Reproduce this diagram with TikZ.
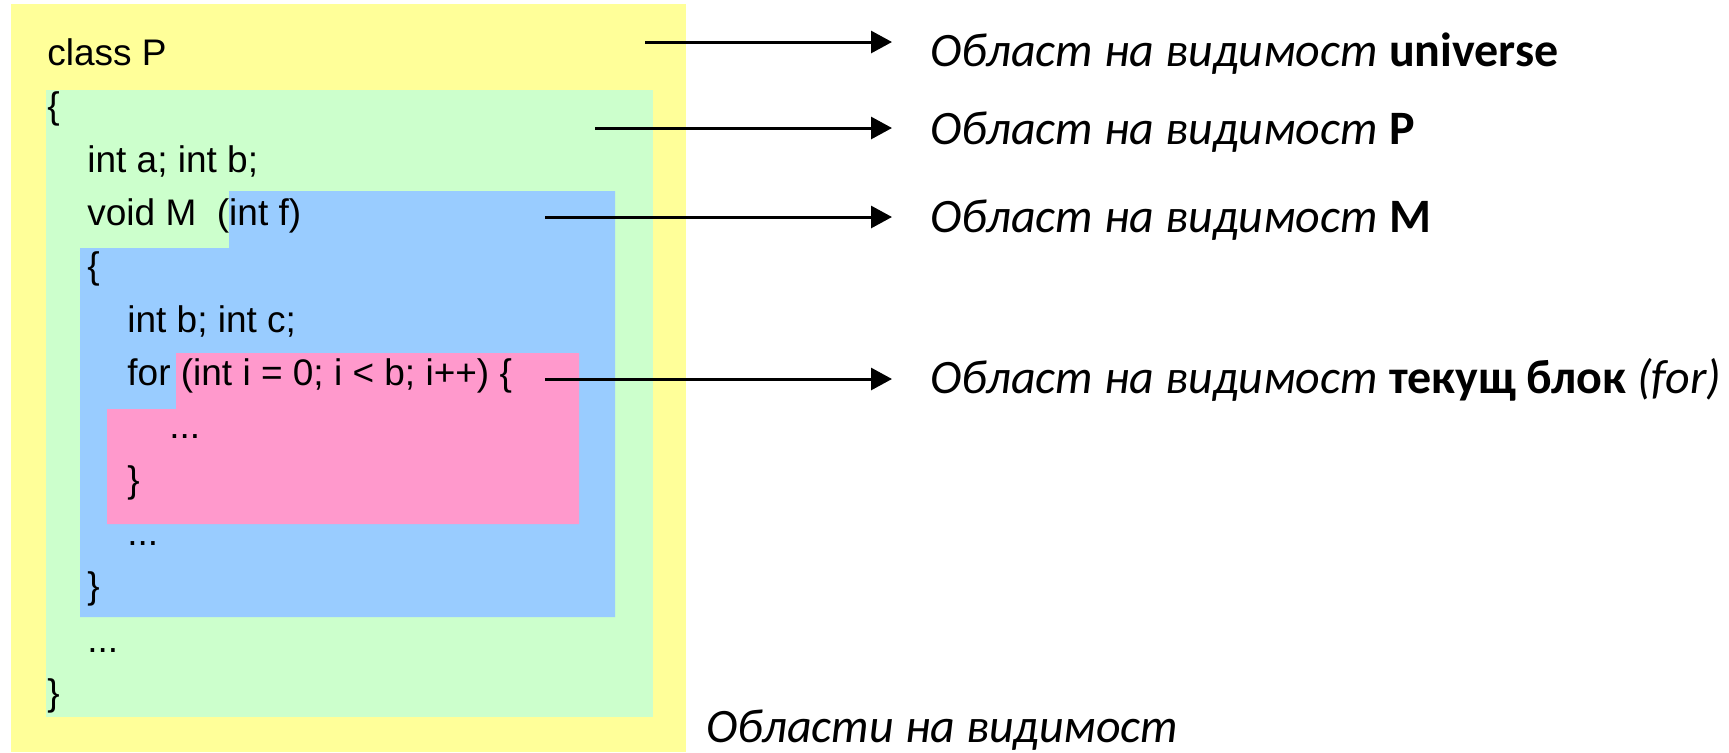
\documentclass[tikz,border=0pt]{standalone}
\usepackage{fontspec}
\setmainfont{Liberation Sans}
\newfontfamily\notefont[Language=Bulgarian]{Carlito}
\usetikzlibrary{arrows.meta}

\definecolor{scopeU}{HTML}{FFFF99}
\definecolor{scopeP}{HTML}{CCFFCC}
\definecolor{scopeM}{HTML}{99CCFF}
\definecolor{scopeF}{HTML}{FF99CC}

\begin{document}
\begin{tikzpicture}[x=0.5pt, y=-0.5pt,
    code/.style={anchor=base west, inner sep=0pt, font=\fontsize{18.5}{20}\selectfont},
    note/.style={anchor=base west, inner sep=0pt, font=\notefont\fontsize{24}{27}\selectfont},
    arr/.style={line width=1.5pt, -{Triangle[length=10.5pt,width=11pt]}, shorten >=19pt}]

            \useasboundingbox (0,0) rectangle (1729,752);

            % Scopes (universe, P, M, for)
            \fill[scopeU] (11,4) rectangle (686,752);
            \fill[scopeP] (46,90) rectangle (653,717);
            \fill[scopeM] (229,191) -- (615,191) -- (615,617) -- (80,617) -- (80,248) -- (229,248) -- cycle;
            \fill[scopeF] (176,353) -- (579,353) -- (579,524) -- (107,524) -- (107,409) -- (176,409) -- cycle;

            % Code lines
            \node[code] (c0) at (47,65) {class P};
            \node[code] (c1) at (47,118) {\{};
            \node[code] (c2) at (87,172) {int a; int b;};
            \node[code] (c3) at (87,225) {void M\ \ (int f)};
            \node[code] (c4) at (87,278) {\{};
            \node[code] (c5) at (127,332) {int b; int c;};
            \node[code] (c6) at (127,385) {for (int i = 0; i < b; i++) \{};
            \node[code] (c7) at (169,438) {...};
            \node[code] (c8) at (127,492) {\}};
            \node[code] (c9) at (127,545) {...};
            \node[code] (c10) at (87,598) {\}};
            \node[code] (c11) at (87,652) {...};
            \node[code] (c12) at (47,705) {\}};

            % Labels
            \node[note] (lU) at (930,66) {\itshape Област на видимост \upshape\bfseries universe};
            \node[note] (lP) at (930,144) {\itshape Област на видимост \upshape\bfseries P};
            \node[note] (lM) at (930,232) {\itshape Област на видимост \upshape\bfseries M};
            \node[note] (lF) at (930,393) {\itshape Област на видимост \upshape\bfseries текущ блок \mdseries\itshape (for)};
            \node[note] (lAll) at (706,742) {\itshape Области на видимост};

            % Arrows
            \coordinate (aU) at (645,42);
            \coordinate (aP) at (595,128);
            \coordinate (aM) at (545,217);
            \coordinate (aF) at (545,379);
            \draw[arr] (aU) -- (aU -| lU.west);
            \draw[arr] (aP) -- (aP -| lP.west);
            \draw[arr] (aM) -- (aM -| lM.west);
            \draw[arr] (aF) -- (aF -| lF.west);

            \end{tikzpicture}
\end{document}
